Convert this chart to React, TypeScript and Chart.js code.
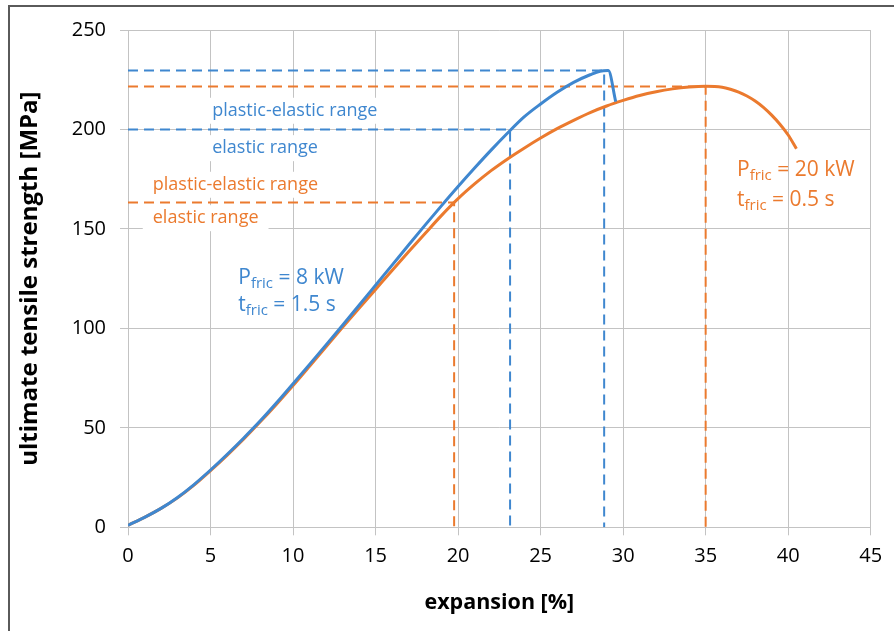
import React, { useEffect, useRef } from "react";
import { Chart, registerables } from "chart.js";

Chart.register(...registerables);

// ---- data ----
const blueX = [0, 1, 2, 3, 4, 5, 6, 7, 8, 9, 10, 11, 12, 13, 14, 15, 16, 17, 18, 19, 20, 21, 22, 23, 24, 25, 26, 27, 28, 28.6, 29.1, 29.55];
const blueY = [1, 5, 9.5, 15, 21.5, 28.8, 36.6, 44.8, 53.4, 62.6, 72.2, 81.9, 91.7, 101.6, 111.6, 121.7, 131.8, 141.9, 151.9, 161.7, 171.3, 180.6, 189.6, 198.2, 206.3, 212.8, 218.7, 223.7, 227.5, 229.3, 229.6, 214];

const orangeX = [0, 1, 2, 3, 4, 5, 6, 7, 8, 9, 10, 11, 12, 13, 14, 15, 16, 17, 18, 19, 20, 21, 22, 23, 24, 25, 26, 27, 28, 29, 30, 31, 32, 33, 34, 35, 36, 36.5, 37, 37.5, 38, 38.5, 39, 39.5, 40, 40.5];
const orangeY = [1, 5, 9.5, 14.8, 21.2, 28.5, 36.2, 44.3, 52.9, 61.9, 71.3, 81, 90.8, 100.5, 110.1, 119.6, 129.1, 138.5, 147.7, 156.8, 165.2, 172.6, 179.3, 185.2, 190.6, 195.7, 200.4, 204.6, 208.5, 211.8, 214.6, 217.1, 219, 220.4, 221.3, 221.7, 221.2, 220.2, 218.8, 216.8, 214.3, 211.1, 207.2, 202.6, 197.2, 190.3];

// limit points (elastic limit, ultimate strength)
const blueLimitX = [23.15, 28.85];
const blueLimitY = [200, 229.6];
const orangeLimitX = [19.76, 35];
const orangeLimitY = [163.3, 221.6];

const xMin = 0, xMax = 45, xStep = 5;
const yMin = 0, yMax = 250, yStep = 50;

const BLUE = "#3f87cf";
const ORANGE = "#eb7a2e";
const GRID = "#c3c3c3";
const FONT = "'Open Sans'";

const rangeNotes = [
  { text: "plastic-elastic range", x: 5.1, y: 209.4, color: BLUE },
  { text: "elastic range", x: 5.1, y: 190.6, color: BLUE },
  { text: "plastic-elastic range", x: 1.5, y: 172.2, color: ORANGE },
  { text: "elastic range", x: 1.5, y: 155.4, color: ORANGE },
];

const paramNotes = [
  { sym: "P", sub: "fric", rest: " = 8 kW", x: 6.68, y: 125.4, color: BLUE },
  { sym: "t", sub: "fric", rest: " = 1.5 s", x: 6.68, y: 111.9, color: BLUE },
  { sym: "P", sub: "fric", rest: " = 20 kW", x: 36.9, y: 179.7, color: ORANGE },
  { sym: "t", sub: "fric", rest: " = 0.5 s", x: 36.9, y: 164.6, color: ORANGE },
];

const pts = (xs: number[], ys: number[]) => xs.map((x, i) => ({ x, y: ys[i] }));
const limitPath = (lx: number, ly: number) => [
  { x: 0, y: ly },
  { x: lx, y: ly },
  { x: lx, y: 0 },
];

const notesPlugin = {
  id: "notes",
  beforeDatasetsDraw(chart: any) {
    const { ctx, scales } = chart;
    const xs = scales.x, ys = scales.y;
    ctx.save();
    ctx.textBaseline = "middle";
    ctx.textAlign = "left";
    for (const n of rangeNotes) {
      ctx.font = `18px ${FONT}`;
      const px = xs.getPixelForValue(n.x);
      const py = ys.getPixelForValue(n.y);
      const w = ctx.measureText(n.text).width;
      ctx.fillStyle = "#ffffff";
      ctx.fillRect(px - 10, py - 13, w + 20, 26);
      ctx.fillStyle = n.color;
      ctx.fillText(n.text, px, py);
    }
    for (const n of paramNotes) {
      let px = xs.getPixelForValue(n.x);
      const py = ys.getPixelForValue(n.y);
      ctx.fillStyle = n.color;
      ctx.font = `21px ${FONT}`;
      ctx.fillText(n.sym, px, py);
      px += ctx.measureText(n.sym).width;
      ctx.font = `15px ${FONT}`;
      ctx.fillText(n.sub, px, py + 6);
      px += ctx.measureText(n.sub).width;
      ctx.font = `21px ${FONT}`;
      ctx.fillText(n.rest, px, py);
    }
    ctx.restore();
  },
  afterDraw(chart: any) {
    const { ctx } = chart;
    ctx.save();
    ctx.strokeStyle = "#5a5a5a";
    ctx.lineWidth = 2;
    ctx.strokeRect(9, 6, 900, 700);
    ctx.restore();
  },
};

export default function App() {
  const ref = useRef<HTMLCanvasElement>(null);

  useEffect(() => {
    if (!ref.current) return;
    const dashed = (data: any[], color: string, order: number) => ({
      data,
      borderColor: color,
      borderWidth: 2,
      borderDash: [10, 6],
      pointRadius: 0,
      tension: 0,
      fill: false,
      order,
    });
    const chart = new Chart(ref.current, {
      type: "line",
      data: {
        datasets: [
          dashed(limitPath(blueLimitX[1], blueLimitY[1]), BLUE, 5),
          dashed(limitPath(blueLimitX[0], blueLimitY[0]), BLUE, 5),
          dashed(limitPath(orangeLimitX[1], orangeLimitY[1]), ORANGE, 4),
          dashed(limitPath(orangeLimitX[0], orangeLimitY[0]), ORANGE, 4),
          {
            label: "P = 20 kW",
            data: pts(orangeX, orangeY),
            borderColor: ORANGE,
            borderWidth: 3,
            pointRadius: 0,
            cubicInterpolationMode: "monotone",
            fill: false,
            order: 2,
          },
          {
            label: "P = 8 kW",
            data: pts(blueX, blueY),
            borderColor: BLUE,
            borderWidth: 3,
            pointRadius: 0,
            cubicInterpolationMode: "monotone",
            fill: false,
            order: 1,
          },
        ] as any,
      },
      options: {
        responsive: false,
        animation: false,
        events: [],
        layout: { padding: { left: 0, top: 30, right: 23.3, bottom: 0 } },
        plugins: { legend: { display: false }, tooltip: { enabled: false } },
        scales: {
          x: {
            type: "linear",
            min: xMin,
            max: xMax,
            ticks: { stepSize: xStep, color: "#000", font: { family: FONT, size: 20 }, padding: 9, maxRotation: 0 },
            grid: { color: GRID, lineWidth: 1, tickLength: 8 },
            border: { color: GRID },
            title: {
              display: true,
              text: "expansion [%]",
              color: "#000",
              font: { family: FONT, size: 21.5, weight: "bold" },
              padding: { top: 0, bottom: 15 },
            },
            afterFit(s: any) {
              s.height = 103.7;
            },
          },
          y: {
            min: yMin,
            max: yMax,
            ticks: { stepSize: yStep, color: "#000", font: { family: FONT, size: 20 }, padding: 14 },
            grid: { color: GRID, lineWidth: 1, tickLength: 8 },
            border: { color: GRID },
            title: {
              display: true,
              text: "ultimate tensile strength [MPa]",
              color: "#000",
              font: { family: FONT, size: 24, weight: "bold" },
              padding: { top: 15.5, bottom: 0 },
            },
            afterFit(s: any) {
              s.width = 128;
            },
          },
        },
      },
      plugins: [notesPlugin],
    });
    return () => chart.destroy();
  }, []);

  return (
    <div style={{ position: "absolute", left: 0, top: 0, width: 894, height: 631, background: "#fff" }}>
      <canvas ref={ref} width={894} height={631} style={{ display: "block" }} />
    </div>
  );
}
